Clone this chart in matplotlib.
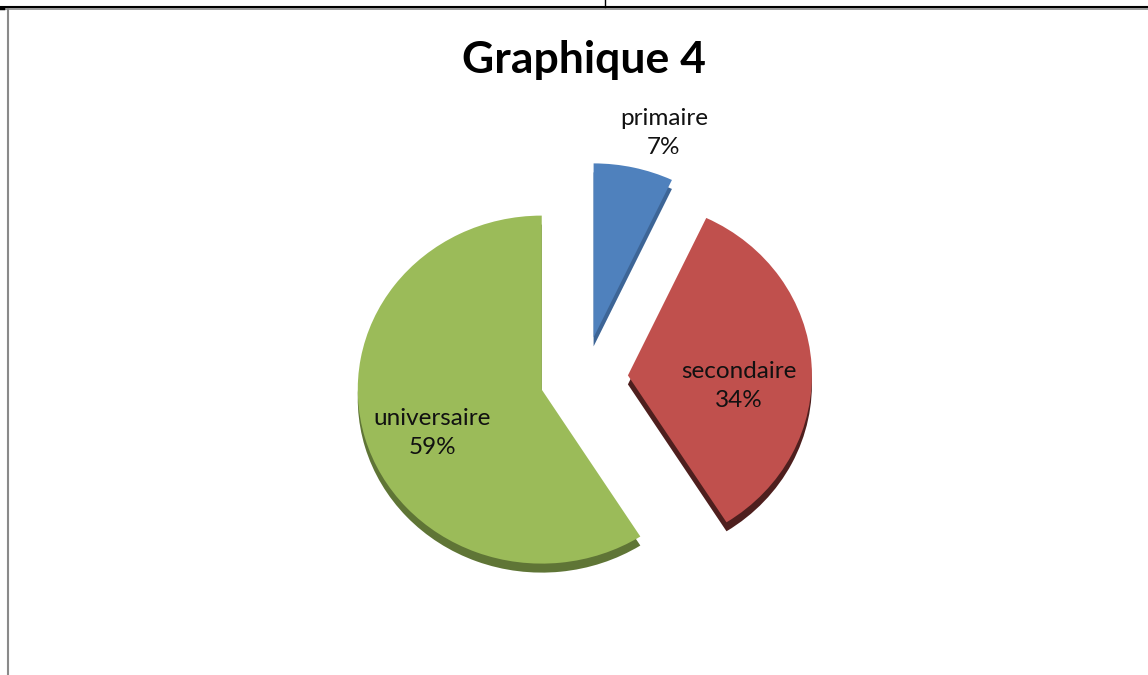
import matplotlib
matplotlib.use("Agg")
import matplotlib.pyplot as plt
from matplotlib.lines import Line2D

# data
categories = ["primaire", "secondaire", "universaire"]
shares = [7, 34, 59]
colors = ["#4F81BD", "#C0504D", "#9BBB59"]
side_colors = ["#3d6596", "#4e1f1e", "#5f7536"]

W, H = 1148, 675
k = 184 / 174  # vertical squash of the pie (slight tilt)

def py(y):
    # pixel row (top down) -> data y
    return (H - y) * k

fig = plt.figure(figsize=(W / 100, H / 100), dpi=100)
ax = fig.add_axes([0, 0, 1, 1])

cx, cy = 584, 378
r = 184
explode = [44, 44, 44]  # pie explode is in data units

# side / depth of the 3D pie: darker copy shifted down
ax.pie(shares, colors=side_colors, startangle=90, counterclock=False,
       explode=explode, radius=r, center=(cx, py(cy + 9)),
       wedgeprops=dict(linewidth=0))
# top face
ax.pie(shares, colors=colors, startangle=90, counterclock=False,
       explode=explode, radius=r, center=(cx, py(cy)),
       wedgeprops=dict(linewidth=0))

ax.set_aspect("auto")
ax.set_xlim(0, W)
ax.set_ylim(0, H * k)
ax.axis("off")

label_pos = [(664, 133), (739, 386), (432, 433)]
for name, v, (x, y) in zip(categories, shares, label_pos):
    ax.text(x, py(y), f"{name}\n{v}%", ha="center", va="center",
            fontsize=17.5, family="Lato", color="#111111", linespacing=1.45)

fig.text(584 / W, 1 - 60 / H, "Graphique 4", ha="center", va="center",
         fontsize=32, fontweight="bold", family="Lato", color="black")

# table borders around the chart
fig.add_artist(Line2D([0, 1], [1 - 6.5 / H] * 2, color="black", lw=1.5))
fig.add_artist(Line2D([0, 1], [1 - 8.5 / H] * 2, color="#8a8a8a", lw=1.2))
fig.add_artist(Line2D([7.8 / W] * 2, [0, 1 - 8.5 / H], color="#8a8a8a", lw=1.5))
fig.add_artist(Line2D([604.5 / W] * 2, [1, 1 - 6.5 / H], color="black", lw=1))
fig.add_artist(Line2D([0, 3 / W], [1 - 7.5 / H] * 2, color="black", lw=2.5))

fig.savefig("out.png", dpi=100)
